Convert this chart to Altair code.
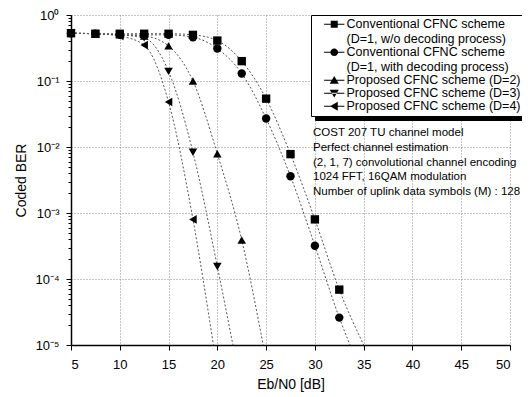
import altair as alt
import pandas as pd

# ---- data ----
series_names = [
    "Conventional CFNC scheme|(D=1, w/o decoding process)",
    "Conventional CFNC scheme|(D=1, with decoding process)",
    "Proposed CFNC scheme (D=2)",
    "Proposed CFNC scheme (D=3)",
    "Proposed CFNC scheme (D=4)",
]
x_sq = [5, 7.5, 10, 12.5, 15, 17.5, 20, 22.5, 25, 27.5, 30, 32.5]
y_sq = [0.53, 0.52, 0.52, 0.52, 0.52, 0.5, 0.41, 0.2, 0.054, 0.0078, 0.0008, 6.9e-5]
x_ci = [5, 7.5, 10, 12.5, 15, 17.5, 20, 22.5, 25, 27.5, 30, 32.5]
y_ci = [0.53, 0.52, 0.5, 0.5, 0.5, 0.46, 0.31, 0.13, 0.027, 0.0036, 3.2e-4, 2.6e-5]
x_d2 = [5, 7.5, 10, 12.5, 15, 17.5, 20, 22.5]
y_d2 = [0.53, 0.52, 0.5, 0.48, 0.34, 0.1, 0.0079, 3.9e-4]
x_d3 = [5, 7.5, 10, 12.5, 15, 17.5, 20]
y_d3 = [0.53, 0.52, 0.5, 0.45, 0.14, 0.0083, 1.55e-4]
x_d4 = [5, 7.5, 10, 12.5, 15, 17.5]
y_d4 = [0.53, 0.52, 0.48, 0.35, 0.048, 8e-4]
# where each dotted curve leaves the plot at the bottom (BER = 1e-5)
line_end_x = [35.0, 33.6, 24.7, 21.6, 19.6]
line_end_y = [1e-5, 1e-5, 1e-5, 1e-5, 1e-5]

notes = [
    "COST 207 TU channel model",
    "Perfect channel estimation",
    "(2, 1, 7) convolutional channel encoding",
    "1024 FFT, 16QAM modulation",
    "Number of uplink data symbols (M) : 128",
]

x_ticks = [5 + 2.5 * i for i in range(19)]
y_ticks = [m * 10.0 ** e for e in range(-5, 0) for m in range(1, 10)] + [1.0]

# ---- tables ----
xs = [x_sq, x_ci, x_d2, x_d3, x_d4]
ys = [y_sq, y_ci, y_d2, y_d3, y_d4]
pts = []
lines = []
for i, name in enumerate(series_names):
    for a, b in zip(xs[i], ys[i]):
        pts.append({"s": name, "x": a, "y": b})
        lines.append({"s": name, "x": a, "y": b})
    lines.append({"s": name, "x": line_end_x[i], "y": line_end_y[i]})
pts = pd.DataFrame(pts)
lines = pd.DataFrame(lines)

FONT = "Liberation Sans"
W, H = 439, 330

decade = "abs(log(datum.value)/LN10 - round(log(datum.value)/LN10)) < 0.001"
five = "datum.value % 5 == 0"

xscale = alt.Scale(domain=[5, 50], nice=False, zero=False)
yscale = alt.Scale(type="log", domain=[1e-5, 1], nice=False)

xaxis = alt.Axis(
    title="Eb/N0 [dB]", values=x_ticks,
    labelExpr="datum.value % 5 == 0 ? datum.label : ''",
    tickSize={"condition": {"test": five, "value": 5}, "value": 3},
    gridOpacity={"condition": {"test": five, "value": 1}, "value": 0},
    gridDash=[1, 2], gridColor="#888", domainColor="black", domainWidth=1.5,
    tickColor="black", labelFontSize=13, titleFontSize=14, labelFont=FONT,
    titleFont=FONT, titleFontWeight="normal", labelColor="black", titleColor="black",
    titlePadding=6, labelPadding=8,
)
sup = "['\u2070','\u207b\u00b9','\u207b\u00b2','\u207b\u00b3','\u207b\u2074','\u207b\u2075']"
yaxis = alt.Axis(
    title="Coded BER", values=y_ticks,
    labelExpr=f"({decade}) ? '10' + {sup}[-round(log(datum.value)/LN10)] : ''",
    tickSize={"condition": {"test": decade, "value": 5}, "value": 3},
    gridOpacity={"condition": {"test": decade, "value": 1}, "value": 0},
    gridDash=[1, 2], gridColor="#888", domainColor="black", domainWidth=1.5,
    tickColor="black", labelFontSize=13, titleFontSize=14, labelFont=FONT,
    titleFont=FONT, titleFontWeight="normal", labelColor="black", titleColor="black",
    titlePadding=6, labelPadding=7,
)

line_layer = alt.Chart(lines).mark_line(
    color="#555", strokeWidth=1, strokeDash=[2, 2], interpolate="monotone", clip=True
).encode(
    x=alt.X("x:Q", scale=xscale, axis=xaxis),
    y=alt.Y("y:Q", scale=yscale, axis=yaxis),
    detail="s:N",
    order="x:Q",
)

shape_names = ["square", "circle", "triangle-up", "triangle-down", "triangle-left"]
marker_sizes = [70, 75, 95, 95, 95]
point_layer = alt.Chart(pts).mark_point(filled=True, color="black", opacity=1).encode(
    x=alt.X("x:Q", scale=xscale),
    y=alt.Y("y:Q", scale=yscale),
    shape=alt.Shape("s:N", scale=alt.Scale(domain=series_names, range=shape_names), legend=None),
    size=alt.Size("s:N", scale=alt.Scale(domain=series_names, range=marker_sizes), legend=None),
)

# legend glyphs: a thin bar (the line) plus the filled marker
bar = "M-2.9,-0.13H2.9V0.13H-2.9Z"
leg_paths = [
    bar + "M-1,-1H1V1H-1Z",
    bar + "M1.1,0A1.1,1.1 0 1,1 -1.1,0A1.1,1.1 0 1,1 1.1,0Z",
    bar + "M0,-1.2L1.3,1H-1.3Z",
    bar + "M0,1.2L1.3,-1H-1.3Z",
    bar + "M-1.2,0L1,-1.3V1.3Z",
]

LEG_FS = 12.5


def legend_for(x, y, box, z, label_opacity):
    return alt.Legend(
        title=None, orient="none", legendX=x, legendY=y,
        labelExpr="split(datum.label, '|')",
        labelFont=FONT, labelFontSize=LEG_FS, labelColor="black", labelLimit=400,
        labelOpacity=label_opacity,
        strokeColor="black", fillColor=box, padding=3,
        rowPadding=0, symbolOpacity=1, symbolSize=49,
        symbolFillColor="black", symbolStrokeColor="black", symbolStrokeWidth=0,
        symbolOffset=14, labelOffset=6, zindex=z,
    )


legend_layer = alt.Chart(pts).transform_filter("false").mark_point(
    filled=True, color="black", opacity=1, size=49
).encode(
    x=alt.X("x:Q", scale=xscale),
    y=alt.Y("y:Q", scale=yscale),
    shape=alt.Shape(
        "s:N",
        scale=alt.Scale(domain=series_names, range=leg_paths),
        legend=legend_for(240, 0, "white", 2, 1),
    ),
)

# the same box again, all black and offset, as the legend's drop shadow
shadow_layer = alt.Chart(pts).transform_filter("false").mark_point(
    filled=True, color="black", opacity=1, size=49
).encode(
    x=alt.X("x:Q", scale=xscale),
    y=alt.Y("y:Q", scale=yscale),
    shape=alt.Shape(
        "s:N",
        scale=alt.Scale(domain=series_names, range=leg_paths),
        legend=legend_for(244, 4, "black", 1, 0),
    ),
)

note_layer = alt.Chart(pd.DataFrame({"t": ["|".join(notes)]})).mark_text(
    align="left", baseline="top", font=FONT, fontSize=11.5, color="black",
    lineBreak="|", lineHeight=14.8,
).encode(x=alt.value(242), y=alt.value(112), text="t:N")

chart = alt.layer(
    line_layer, point_layer, shadow_layer, legend_layer, note_layer
).resolve_scale(
    shape="independent", size="independent"
).properties(
    width=W, height=H, padding={"left": 63, "top": 7, "right": 12, "bottom": 52},
    autosize=alt.AutoSizeParams(type="none"), background="white",
).configure_view(stroke=None)

chart.save("out.html", embed_options={"renderer": "svg", "actions": False})
